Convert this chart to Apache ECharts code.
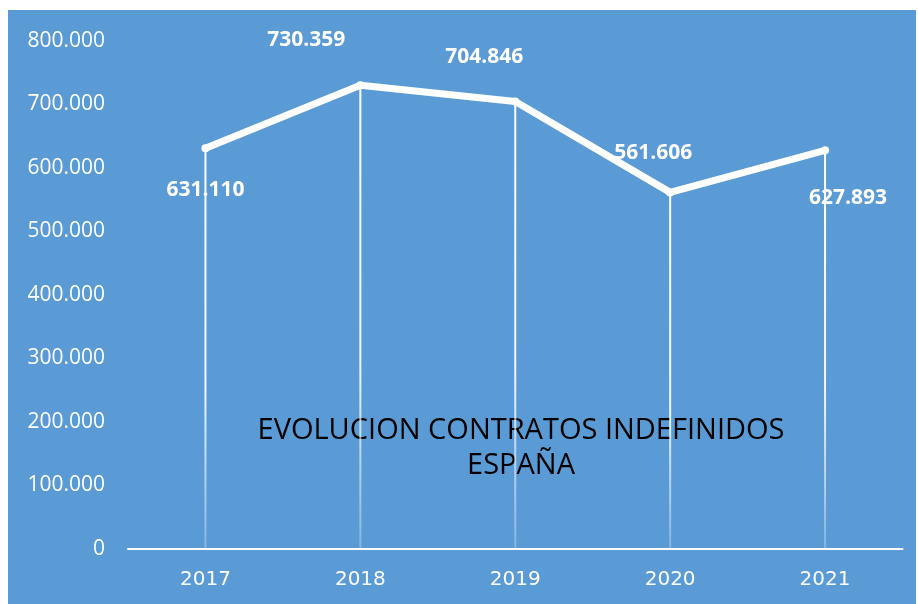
<!DOCTYPE html>
<html><head><meta charset="utf-8">
<script src="https://cdn.jsdelivr.net/npm/echarts@6/dist/echarts.min.js"></script>
<style>html,body{margin:0;padding:0;background:#fff;}#c{position:absolute;left:8px;top:10px;width:908px;height:594px;background:#5B9BD5;}</style>
</head><body><div id="c"></div>
<script>
const categories = ['2017','2018','2019','2020','2021'];
const values = [631110, 730359, 704846, 561606, 627893];
const yTicks = [0,100000,200000,300000,400000,500000,600000,700000,800000];
const titleLines = ['EVOLUCION CONTRATOS INDEFINIDOS','ESPAÑA'];

function fmt(v){ if(v===0) return '0'; return String(v).replace(/\B(?=(\d{3})+(?!\d))/g,'.'); }
const labelOffsets = [[0,42],[-54,-45],[-31,-44],[-17,-39],[23,48]];
const chart = echarts.init(document.getElementById('c'));
chart.setOption({
  backgroundColor:'#5B9BD5',
  animation:false,
  graphic:titleLines.map((t,i)=>({type:'text', x:513, y:421+i*35, style:{text:t, align:'center', verticalAlign:'middle',
    textAlign:'center', textVerticalAlign:'middle', fill:'#000', font:'normal 29px "Open Sans"'}})),
  grid:{left:120, right:13.5, top:31, bottom:55},
  xAxis:{type:'category', data:categories, boundaryGap:true,
    axisLine:{lineStyle:{color:'#fff', width:2}}, axisTick:{show:false},
    axisLabel:{color:'#fff', fontFamily:'DejaVu Sans', fontSize:20, margin:21}},
  yAxis:{type:'value', min:0, max:800000, interval:100000, splitLine:{show:false},
    axisLine:{show:false}, axisTick:{show:false},
    axisLabel:{color:'#fff', fontFamily:'Open Sans', fontSize:21, margin:23, formatter:fmt}},
  series:[
    {type:'bar', data:values, barWidth:2, silent:true,
      itemStyle:{color:new echarts.graphic.LinearGradient(0,0,0,1,[{offset:0,color:'rgba(255,255,255,1)'},{offset:0.6,color:'rgba(255,255,255,0.9)'},{offset:1,color:'rgba(255,255,255,0.25)'}])}},
    {type:'line', data:values.map((v,i)=>({value:v, label:{offset:labelOffsets[i]}})), lineStyle:{color:'#fff', width:7},
      symbol:'circle', symbolSize:8, itemStyle:{color:'#fff'},
      label:{show:true, position:'inside', color:'#fff', fontFamily:'Open Sans', fontWeight:'bold', fontSize:21, formatter:p=>fmt(p.value)}}
  ]
});
</script></body></html>
